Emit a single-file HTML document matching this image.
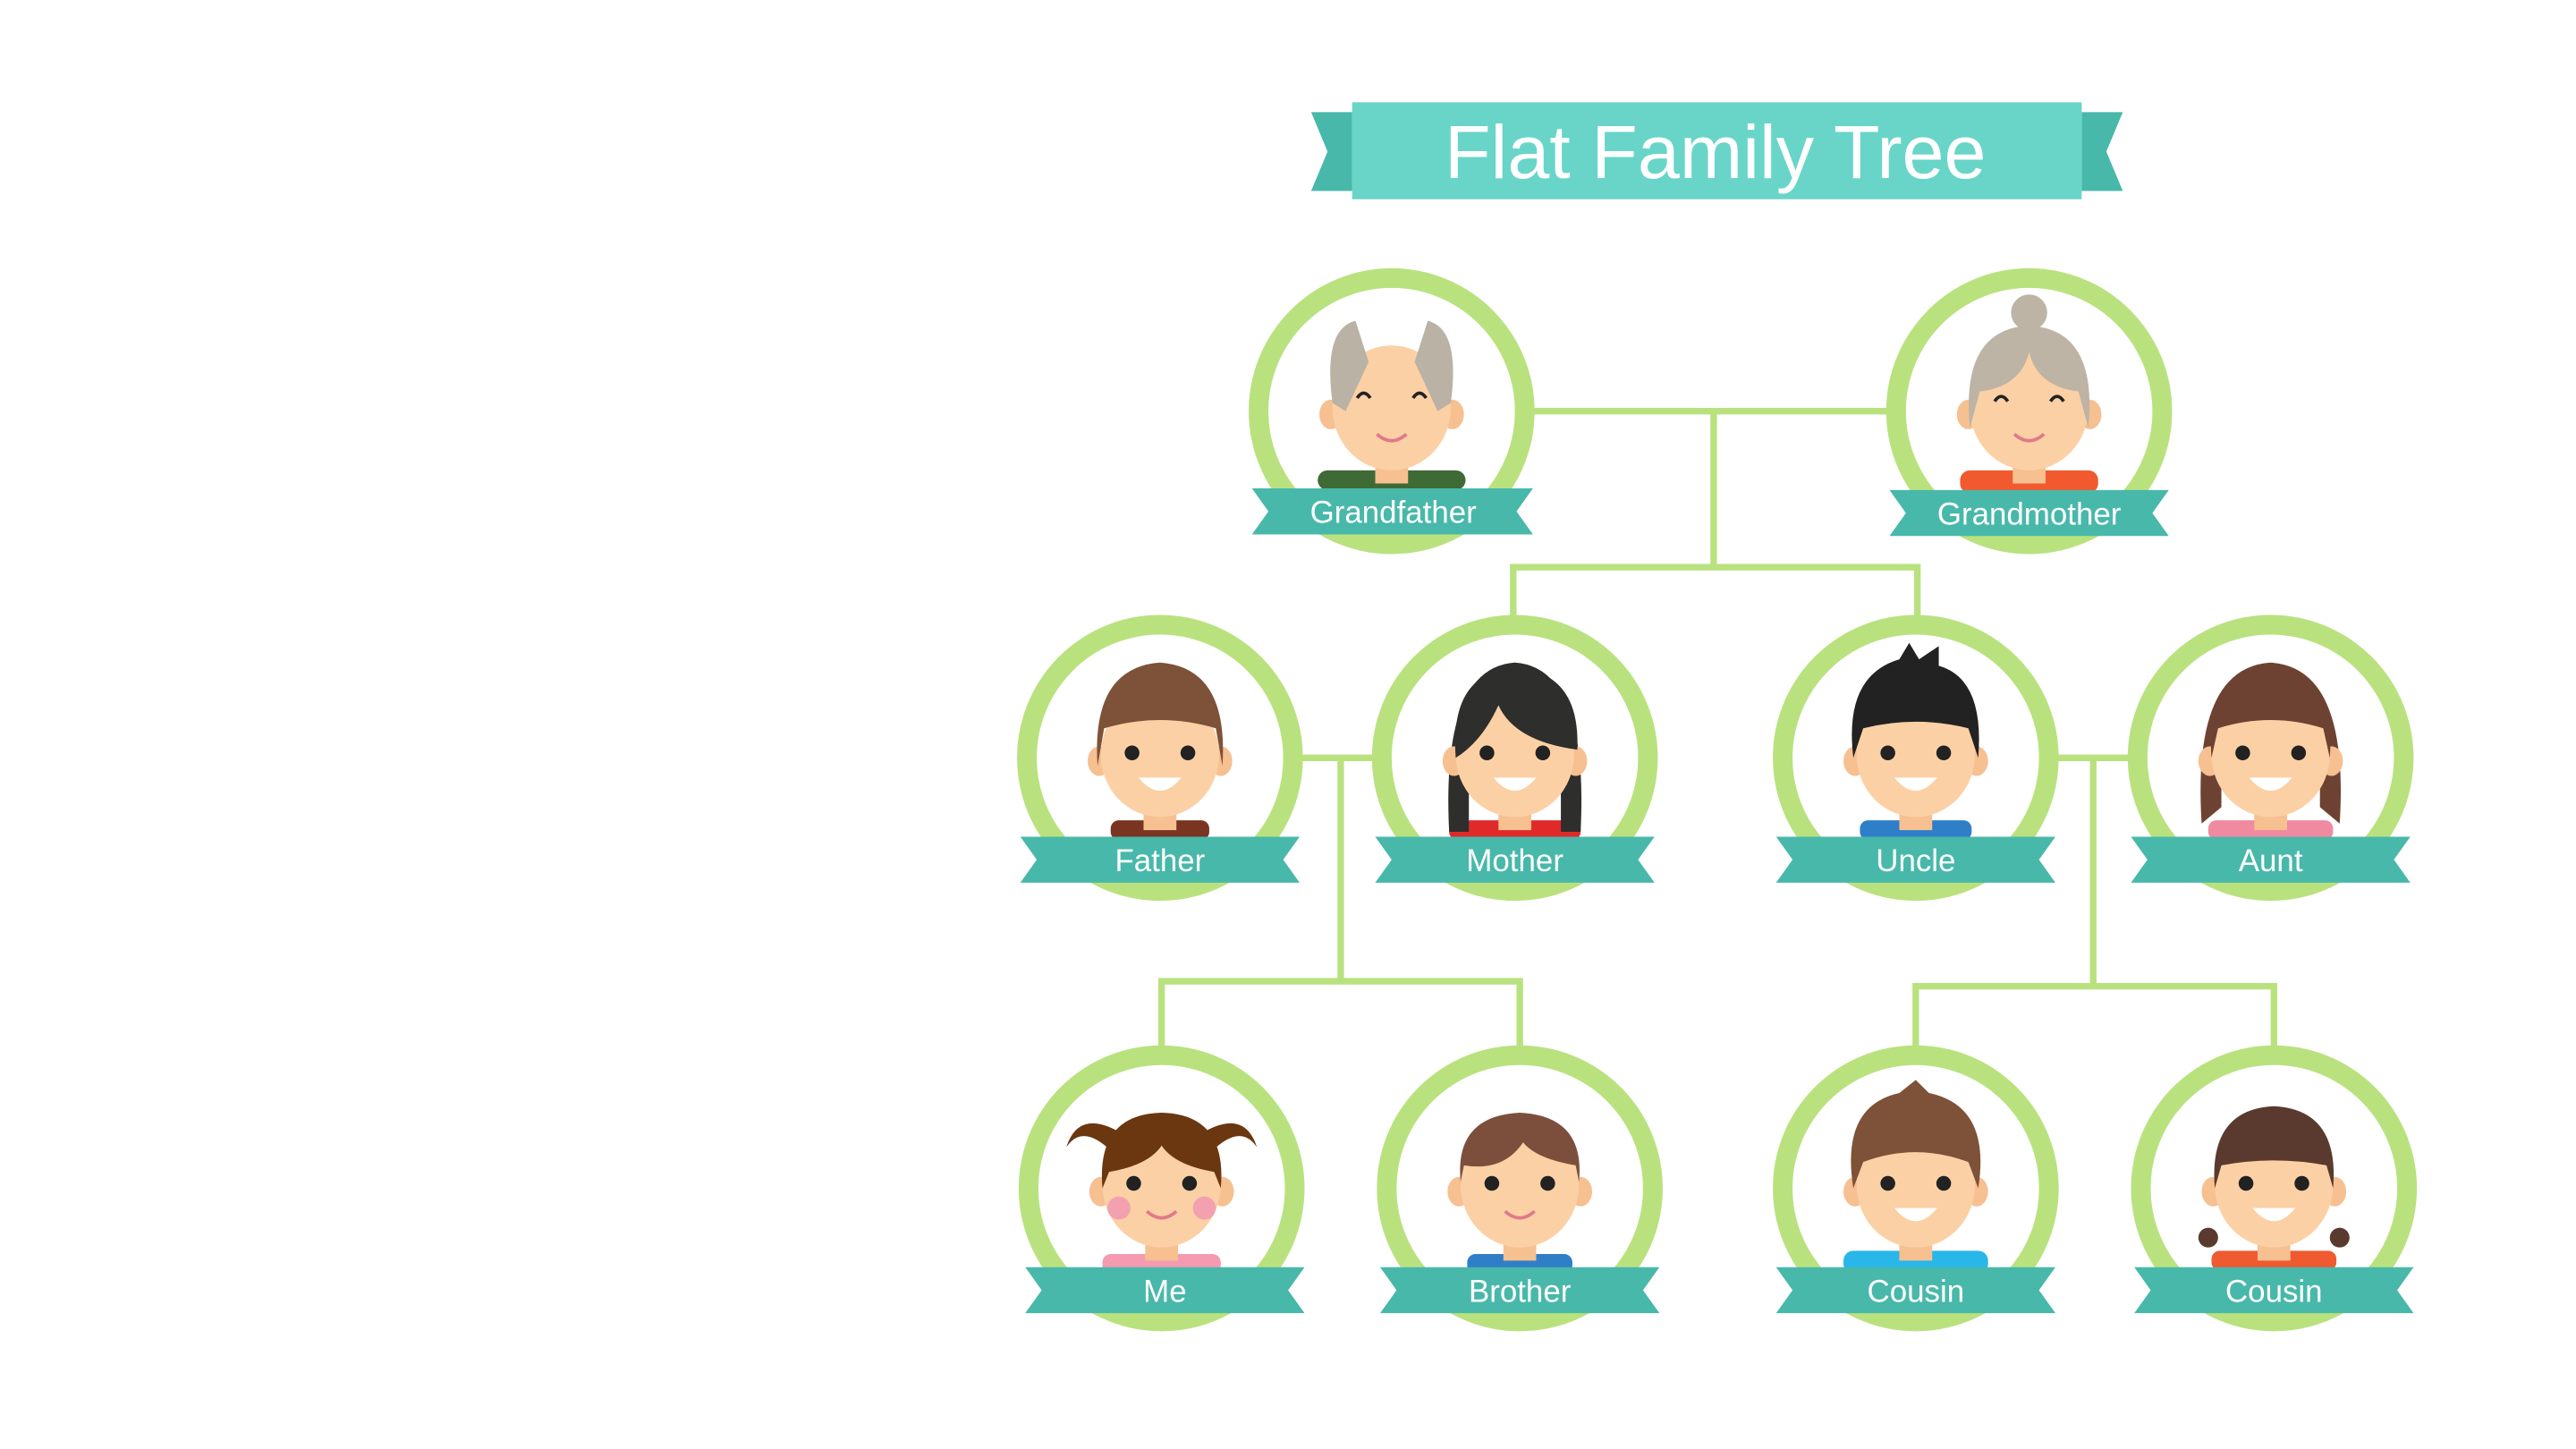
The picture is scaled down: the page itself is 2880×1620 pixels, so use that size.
<!DOCTYPE html>
<html><head><meta charset="utf-8"><style>
html,body{margin:0;padding:0;background:#fff;}
svg{display:block;}
text{font-family:"Liberation Sans",sans-serif;fill:#fff;text-anchor:middle;}
</style></head><body>
<svg width="2880" height="1620" viewBox="0 0 1560 877" xmlns="http://www.w3.org/2000/svg">
<defs>
<g id="ring">
<circle r="81" fill="#fff" stroke="#b9e27f" stroke-width="12"/>
</g>
<g id="face">
<ellipse cx="-37" cy="2" rx="7" ry="9" fill="#f6c091"/>
<ellipse cx="37" cy="2" rx="7" ry="9" fill="#f6c091"/>
<rect x="-10" y="28" width="20" height="16" fill="#f6c091"/>
<ellipse cx="0" cy="-2" rx="36" ry="38" fill="#fcd0a5"/>
</g>
<g id="eyes">
<circle cx="-17" cy="-3" r="4.5" fill="#222"/>
<circle cx="17" cy="-3" r="4.5" fill="#222"/>
</g>
<path id="grin" d="M-13 12 Q0 28 13 12 Z" fill="#fff"/>
<path id="smile" d="M-9 14 Q0 22 9 14" fill="none" stroke="#e07a8a" stroke-width="2"/>
</defs>
<g transform="scale(0.995)">
<g stroke="#b9e27f" stroke-width="4" fill="none">
<path d="M930 250 H1152 M1043 250 V345 M919 345 H1169 M921 345 V382 M1167 345 V382"/>
<path d="M788 461 H840 M816 461 V597 M705 597 H927 M707 597 V642 M925 597 V642"/>
<path d="M1248 461 H1300 M1274 461 V600 M1164 600 H1386 M1166 600 V642 M1384 600 V642"/>
</g>

<!-- title -->
<polygon points="798,68 823,68 823,116 798,116 808,92" fill="#48b8aa"/>
<polygon points="1292,68 1267,68 1267,116 1292,116 1282,92" fill="#48b8aa"/>
<rect x="823" y="62" width="444" height="59" fill="#68d5c8"/>
<text x="1044" y="108" font-size="46">Flat Family Tree</text>

<!-- Grandfather -->
<g transform="translate(847,250)">
<use href="#ring"/>
<rect x="-45" y="36" width="90" height="12" rx="6" fill="#3e6a35"/>
<use href="#face"/>
<path d="M-36 -5 Q-42 -50 -22 -55 L-14 -30 L-28 0 Z" fill="#b9b2a5"/>
<path d="M36 -5 Q42 -50 22 -55 L14 -30 L28 0 Z" fill="#b9b2a5"/>
<path d="M-21 -8 q4 -6 8 0 M13 -8 q4 -6 8 0" stroke="#222" stroke-width="2" fill="none"/>
<use href="#smile"/>
</g>
<!-- Grandmother -->
<g transform="translate(1235,250)">
<use href="#ring"/>
<rect x="-42" y="36" width="84" height="14" rx="6" fill="#f05a2e"/>
<use href="#face"/>
<circle cx="0" cy="-60" r="11" fill="#bdb4a6"/>
<path d="M-36 10 Q-42 -50 0 -52 Q42 -50 36 10 L30 -12 Q5 -15 0 -36 Q-5 -15 -30 -12 Z" fill="#bdb4a6"/>
<path d="M-21 -6 q4 -6 8 0 M13 -6 q4 -6 8 0" stroke="#222" stroke-width="2" fill="none"/>
<use href="#smile"/>
</g>
<!-- Father -->
<g transform="translate(706,461)">
<use href="#ring"/>
<rect x="-30" y="38" width="60" height="12" rx="5" fill="#7a3422"/>
<use href="#face"/>
<path d="M-38 5 Q-42 -55 0 -58 Q42 -55 38 5 L34 -18 Q0 -28 -34 -18 Z" fill="#7d5238"/>
<use href="#eyes"/><use href="#grin"/>
</g>
<!-- Mother -->
<g transform="translate(922,461)">
<use href="#ring"/>
<rect x="-40" y="38" width="80" height="12" rx="5" fill="#e02a2a"/>
<path d="M-40 45 Q-45 -55 0 -58 Q45 -55 40 45 L28 45 L28 0 L-28 0 L-28 45 Z" fill="#2e2e2c"/>
<use href="#face"/>
<path d="M-36 0 Q-40 -52 0 -55 Q40 -52 38 -5 Q0 -10 -10 -32 Q-20 -10 -36 0 Z" fill="#2e2e2c"/>
<use href="#eyes"/><use href="#grin"/>
</g>
<!-- Uncle -->
<g transform="translate(1166,461)">
<use href="#ring"/>
<rect x="-34" y="38" width="68" height="12" rx="5" fill="#2f7fc8"/>
<use href="#face"/>
<path d="M-38 0 Q-44 -50 -10 -60 L-4 -70 L2 -60 L14 -68 L14 -56 Q42 -48 38 0 L32 -18 Q0 -26 -32 -18 Z" fill="#222"/>
<use href="#eyes"/><use href="#grin"/>
</g>
<!-- Aunt -->
<g transform="translate(1382,461)">
<use href="#ring"/>
<rect x="-38" y="38" width="76" height="12" rx="5" fill="#f08aa0"/>
<path d="M-42 40 Q-48 -55 0 -58 Q48 -55 42 40 L30 30 L30 0 L-30 0 L-30 30 Z" fill="#6e4232"/>
<use href="#face"/>
<path d="M-36 0 Q-40 -52 0 -55 Q40 -52 36 0 L32 -18 Q0 -28 -32 -18 Z" fill="#6e4232"/>
<use href="#eyes"/><use href="#grin"/>
</g>
<!-- Me -->
<g transform="translate(707,723)">
<use href="#ring"/>
<rect x="-36" y="40" width="72" height="12" rx="5" fill="#f59ab0"/>
<path d="M-30 -22 Q-48 -40 -58 -25 Q-50 -50 -22 -32 Z" fill="#6b3710"/>
<path d="M30 -22 Q48 -40 58 -25 Q50 -50 22 -32 Z" fill="#6b3710"/>
<use href="#face"/>
<path d="M-36 0 Q-40 -45 0 -46 Q40 -45 36 0 L32 -10 Q8 -14 0 -26 Q-8 -14 -32 -10 Z" fill="#6b3710"/>
<circle cx="-26" cy="12" r="7" fill="#f3a0b0"/><circle cx="26" cy="12" r="7" fill="#f3a0b0"/>
<use href="#eyes"/><use href="#smile"/>
</g>
<!-- Brother -->
<g transform="translate(925,723)">
<use href="#ring"/>
<rect x="-32" y="40" width="64" height="12" rx="5" fill="#2f7fc8"/>
<use href="#face"/>
<path d="M-36 -4 Q-40 -44 0 -46 Q40 -44 36 -4 L34 -14 Q10 -18 2 -28 Q-10 -10 -34 -14 Z" fill="#7c4f3c"/>
<use href="#eyes"/><use href="#smile"/>
</g>
<!-- Cousin 1 -->
<g transform="translate(1166,723)">
<use href="#ring"/>
<rect x="-44" y="38" width="88" height="14" rx="6" fill="#29b6e8"/>
<use href="#face"/>
<path d="M-38 0 Q-46 -50 -10 -58 L0 -66 L8 -58 Q46 -50 38 0 L32 -16 Q0 -28 -32 -16 Z" fill="#7d5238"/>
<use href="#eyes"/><use href="#grin"/>
</g>
<!-- Cousin 2 -->
<g transform="translate(1384,723)">
<use href="#ring"/>
<rect x="-38" y="38" width="76" height="12" rx="5" fill="#ef5a30"/>
<circle cx="-40" cy="30" r="6" fill="#5a3a2e"/><circle cx="40" cy="30" r="6" fill="#5a3a2e"/>
<use href="#face"/>
<path d="M-36 0 Q-40 -48 0 -50 Q40 -48 36 0 L32 -14 Q0 -20 -32 -14 Z" fill="#5a3a2e"/>
<use href="#eyes"/><use href="#grin"/>
</g>

<!-- ribbons -->
<g fill="#48b8aa">
<polygon points="762,297 933,297 923,311 933,325 762,325 772,311"/>
<polygon points="1150,298 1320,298 1310,312 1320,326 1150,326 1160,312"/>
<polygon points="621,509 791,509 781,523 791,537 621,537 631,523"/>
<polygon points="837,509 1007,509 997,523 1007,537 837,537 847,523"/>
<polygon points="1081,509 1251,509 1241,523 1251,537 1081,537 1091,523"/>
<polygon points="1297,509 1467,509 1457,523 1467,537 1297,537 1307,523"/>
<polygon points="624,771 794,771 784,785 794,799 624,799 634,785"/>
<polygon points="840,771 1010,771 1000,785 1010,799 840,799 850,785"/>
<polygon points="1081,771 1251,771 1241,785 1251,799 1081,799 1091,785"/>
<polygon points="1299,771 1469,771 1459,785 1469,799 1299,799 1309,785"/>
</g>
<g font-size="19">
<text x="848" y="318">Grandfather</text>
<text x="1235" y="319">Grandmother</text>
<text x="706" y="530">Father</text>
<text x="922" y="530">Mother</text>
<text x="1166" y="530">Uncle</text>
<text x="1382" y="530">Aunt</text>
<text x="709" y="792">Me</text>
<text x="925" y="792">Brother</text>
<text x="1166" y="792">Cousin</text>
<text x="1384" y="792">Cousin</text>
</g>
</g>
</svg>
</body></html>
